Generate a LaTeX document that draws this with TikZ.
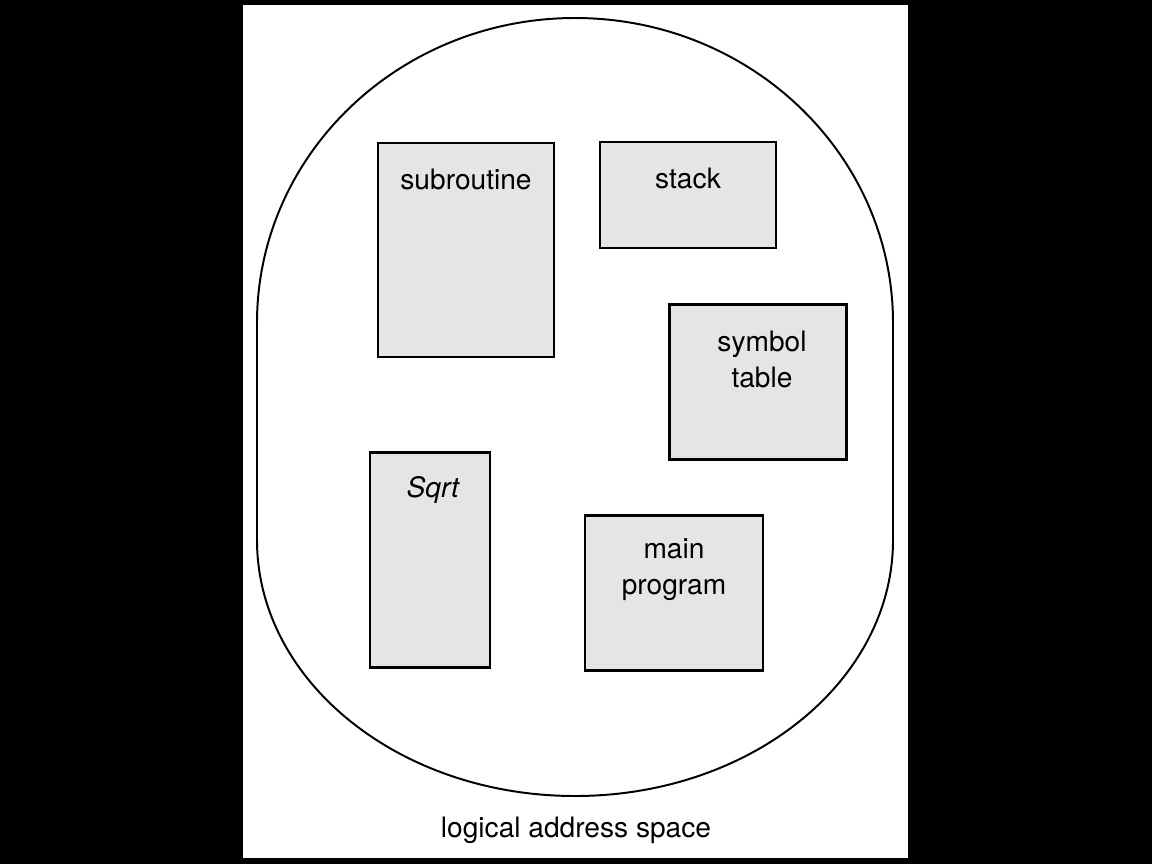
\documentclass[tikz,border=0pt]{standalone}
\usepackage{fontspec}
\setmainfont{TeX Gyre Heros}

\begin{document}
\begin{tikzpicture}[x=0.025cm, y=-0.025cm,
segbox/.style={draw, line width=2pt, fill=black!10, inner sep=0pt},
segtext/.style={font=\fontsize{20}{25.6}\selectfont, align=center, inner sep=0pt}]
    % page
    \fill[black] (0,0) rectangle (1152,864);
    \fill[white] (243,5) rectangle (908,858);
    % outline of the address space
    \draw[line width=1.4pt] (257,323) arc[start angle=180, end angle=360, x radius=318, y radius=305]
        -- (893,540) arc[start angle=0, end angle=180, x radius=318, y radius=256] -- cycle;

    \node[segbox, minimum width=4.4cm, minimum height=5.35cm] (sub) at (466,250) {};
    \node[segbox, minimum width=4.4cm, minimum height=2.65cm] (stack) at (688,195) {};
    \node[segbox, minimum width=4.425cm, minimum height=3.875cm] (symtab) at (758,382) {};
    \node[segbox, minimum width=3cm, minimum height=5.375cm] (sqrt) at (430,560) {};
    \node[segbox, minimum width=4.45cm, minimum height=3.875cm] (main) at (674,593) {};

    \node[segtext] (subtext) at ([yshift=-0.95cm]sub.north) {subroutine};
    \node[segtext] (stacktext) at ([yshift=-0.95cm]stack.north) {stack};
    \node[segtext] (symtabtext) at ([xshift=0.1cm, yshift=-1.4cm]symtab.north) {symbol\\table};
    \node[segtext] (sqrttext) at ([xshift=0.07cm, yshift=-0.98cm]sqrt.north) {\itshape Sqrt};
    \node[segtext] (maintext) at ([yshift=-1.4cm]main.north) {main\\program};

    \node[segtext] (space) at (576,830) {logical address space};
\end{tikzpicture}
\end{document}
